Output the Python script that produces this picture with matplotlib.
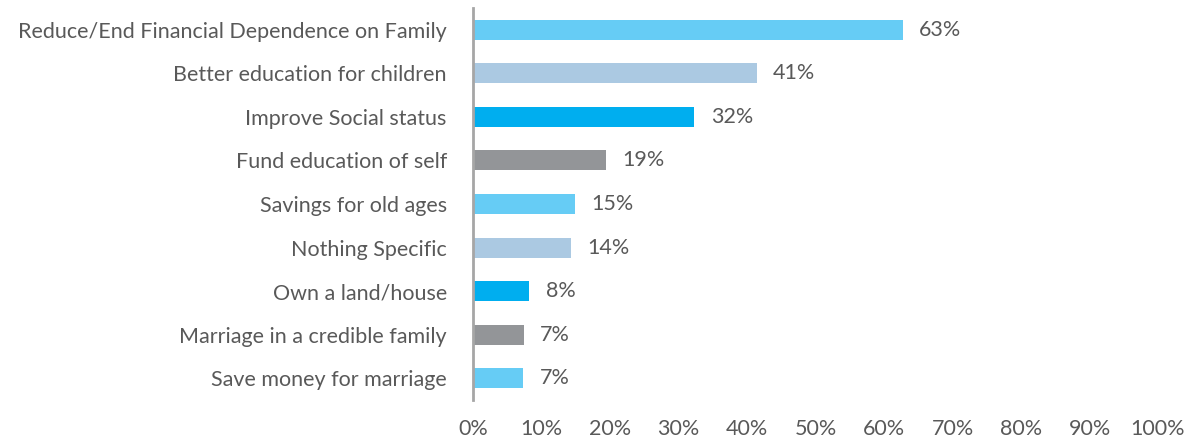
import matplotlib
matplotlib.use("Agg")
import matplotlib.pyplot as plt
from matplotlib.ticker import FuncFormatter

categories = ["Reduce/End Financial Dependence on Family",
              "Better education for children",
              "Improve Social status",
              "Fund education of self",
              "Savings for old ages",
              "Nothing Specific",
              "Own a land/house",
              "Marriage in a credible family",
              "Save money for marriage"]
values = [62.7, 41.4, 32.3, 19.4, 14.9, 14.3, 8.2, 7.4, 7.3]
colors = ["#66CCF5", "#ABC9E2", "#00AEEF", "#939598"] * 3
colors = colors[:len(values)]

plt.rcParams['font.family'] = ['Lato', 'DejaVu Sans']
text_col = "#595959"
fs = 15.5

fig = plt.figure(figsize=(11.92, 4.42), dpi=100)
ax = fig.add_axes([0.397, 0.095, 0.5745, 0.887])

y = range(len(values))
ax.barh(y, values, height=0.46, color=colors)
for i, v in enumerate(values):
    ax.text(v + 2.4, i, f"{round(v)}%", va='center', ha='left',
            fontsize=fs, color=text_col)

ax.set_xlim(0, 100)
ax.set_ylim(len(values) - 0.5, -0.5)
ax.set_yticks(list(y))
ax.set_yticklabels(categories, fontsize=fs, color=text_col)
ax.set_xticks(range(0, 101, 10))
ax.xaxis.set_major_formatter(FuncFormatter(lambda x, p: f"{int(x)}%"))
ax.tick_params(axis='x', length=0, pad=14, labelsize=fs, labelcolor=text_col)
ax.tick_params(axis='y', length=0, pad=19)
for s in ['top', 'right', 'bottom']:
    ax.spines[s].set_visible(False)
ax.spines['left'].set_color("#A6A6A6")
ax.spines['left'].set_linewidth(2)

fig.savefig("out.png", dpi=100)
